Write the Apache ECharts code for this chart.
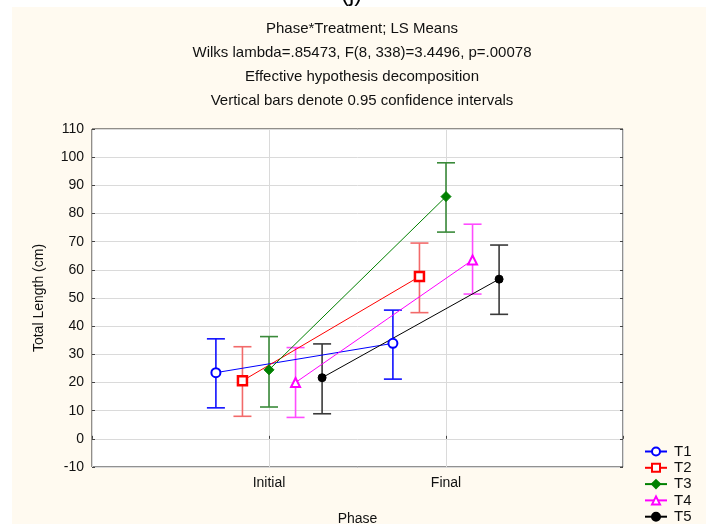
<!DOCTYPE html>
<html>
<head>
<meta charset="utf-8">
<script src="https://cdn.jsdelivr.net/npm/echarts@6/dist/echarts.min.js"></script>
<style>
  html, body { margin: 0; padding: 0; background: #ffffff; }
  #chart { width: 706px; height: 524px; }
</style>
</head>
<body>
<div id="chart"></div>
<script>
// Phase x Treatment LS means with 95% confidence intervals
const categories = ['Initial', 'Final'];
const treatments = ['T1', 'T2', 'T3', 'T4', 'T5'];

const initialMean = [23.5, 20.6, 24.5, 20.0, 21.7];
const initialLow  = [11.0,  8.0, 11.3,  7.6,  8.9];
const initialHigh = [35.5, 32.7, 36.3, 32.4, 33.7];

const finalMean = [33.9, 57.6, 86.0, 63.5, 56.7];
const finalLow  = [21.2, 44.8, 73.4, 51.4, 44.2];
const finalHigh = [45.7, 69.5, 98.0, 76.2, 68.8];

const titleLines = [
  'Phase*Treatment; LS Means',
  'Wilks lambda=.85473, F(8, 338)=3.4496, p=.00078',
  'Effective hypothesis decomposition',
  'Vertical bars denote 0.95 confidence intervals'
];

// styling per treatment
const lineColors = ['#0000ff', '#ff0000', '#008000', '#ff00ff', '#000000'];
const barColors  = ['#1010ff', '#f26a6a', '#3a8a3a', '#ff4cff', '#3a3a3a'];
const symbols    = ['emptyCircle', 'rect', 'diamond', 'emptyTriangle', 'circle'];
const symbolSizes = [9, 9, 10, 9, 8];

const FONT = '"Liberation Sans", Arial, sans-serif';
const chart = echarts.init(document.getElementById('chart'), null, { renderer: 'canvas' });

// horizontal dodge so the treatments sit side by side at each phase
const dodge = i => (i - 2) * 0.15;

const series = [];
treatments.forEach((name, i) => {
  const x0 = 1 + dodge(i), x1 = 2 + dodge(i);
  series.push({
    name: name + ' CI',
    type: 'custom',
    z: 2,
    silent: true,
    data: [[x0, initialLow[i], initialHigh[i]], [x1, finalLow[i], finalHigh[i]]],
    renderItem: function (params, api) {
      const lo = api.coord([api.value(0), api.value(1)]);
      const hi = api.coord([api.value(0), api.value(2)]);
      const cap = 9;
      const style = { stroke: barColors[i], lineWidth: 1.6, fill: null };
      return {
        type: 'group',
        children: [
          { type: 'line', shape: { x1: lo[0], y1: lo[1], x2: hi[0], y2: hi[1] }, style: style },
          { type: 'line', shape: { x1: lo[0] - cap, y1: lo[1], x2: lo[0] + cap, y2: lo[1] }, style: style },
          { type: 'line', shape: { x1: hi[0] - cap, y1: hi[1], x2: hi[0] + cap, y2: hi[1] }, style: style }
        ]
      };
    }
  });
  const filled = symbols[i] === 'diamond' || symbols[i] === 'circle';
  series.push({
    name: name,
    type: 'line',
    z: 3,
    data: [[x0, initialMean[i]], [x1, finalMean[i]]],
    symbol: symbols[i],
    symbolSize: symbolSizes[i],
    showAllSymbol: true,
    lineStyle: { color: lineColors[i], width: 1 },
    itemStyle: {
      color: (symbols[i] === 'rect') ? '#ffffff' : lineColors[i],
      borderColor: lineColors[i],
      borderWidth: filled ? 1 : 2.5
    },
    emphasis: { disabled: true },
    animation: false
  });
});

chart.setOption({
  animation: false,
  backgroundColor: 'transparent',
  textStyle: { fontFamily: FONT },
  graphic: [
    { type: 'rect', z: -10, shape: { x: 12, y: 7, width: 700, height: 520 }, style: { fill: '#fffaf0' } },
    { type: 'text', z: -5, left: 341, top: -18,
      style: { text: '(j)', font: '24px ' + FONT, fill: '#000' } }
  ],
  title: {
    text: titleLines.join('\n'),
    left: 357,
    top: 12,
    textAlign: 'center',
    textStyle: { fontFamily: FONT, fontSize: 15, fontWeight: 'normal', color: '#111', lineHeight: 24 }
  },
  grid: {
    left: 92, right: 83, top: 129, bottom: 57,
    outerBoundsMode: 'none',
    containLabel: false,
    show: true, backgroundColor: '#ffffff', borderColor: '#222', borderWidth: 1
  },
  legend: {
    orient: 'vertical',
    left: 644,
    top: 443.5,
    height: 90,
    padding: 0,
    itemWidth: 22,
    itemHeight: 10,
    itemGap: 0.3,
    data: treatments,
    textStyle: { fontFamily: FONT, fontSize: 15, color: '#111', lineHeight: 16, padding: [0, 0, 0, 2] },
    selectedMode: false
  },
  xAxis: {
    type: 'value',
    min: 0, max: 3, interval: 1,
    name: 'Phase',
    nameLocation: 'middle',
    nameGap: 45,
    nameTextStyle: { fontFamily: FONT, fontSize: 14, color: '#111' },
    axisLine: { show: false },
    axisTick: { show: true, inside: true, length: 3, lineStyle: { color: '#444' } },
    axisLabel: {
      fontFamily: FONT, fontSize: 14, color: '#111', margin: 9,
      formatter: v => (v >= 1 && v <= categories.length) ? categories[v - 1] : ''
    },
    splitLine: { show: true, lineStyle: { color: '#dadada', width: 1 } }
  },
  yAxis: [{
    type: 'value',
    min: -10, max: 110, interval: 10,
    name: 'Total Length (cm)',
    nameLocation: 'middle',
    nameGap: 46,
    nameTextStyle: { fontFamily: FONT, fontSize: 14, color: '#111' },
    axisLine: { show: false },
    axisTick: { show: true, inside: true, length: 3, lineStyle: { color: '#444' } },
    axisLabel: { fontFamily: FONT, fontSize: 14, color: '#111', margin: 8 },
    splitLine: { show: true, lineStyle: { color: '#dadada', width: 1 } }
  }, {
    type: 'value',
    position: 'right',
    min: -10, max: 110, interval: 10,
    axisLine: { show: false },
    axisTick: { show: true, inside: true, length: 3, lineStyle: { color: '#444' } },
    axisLabel: { show: false },
    splitLine: { show: false }
  }],
  series: series
});
</script>
</body>
</html>
